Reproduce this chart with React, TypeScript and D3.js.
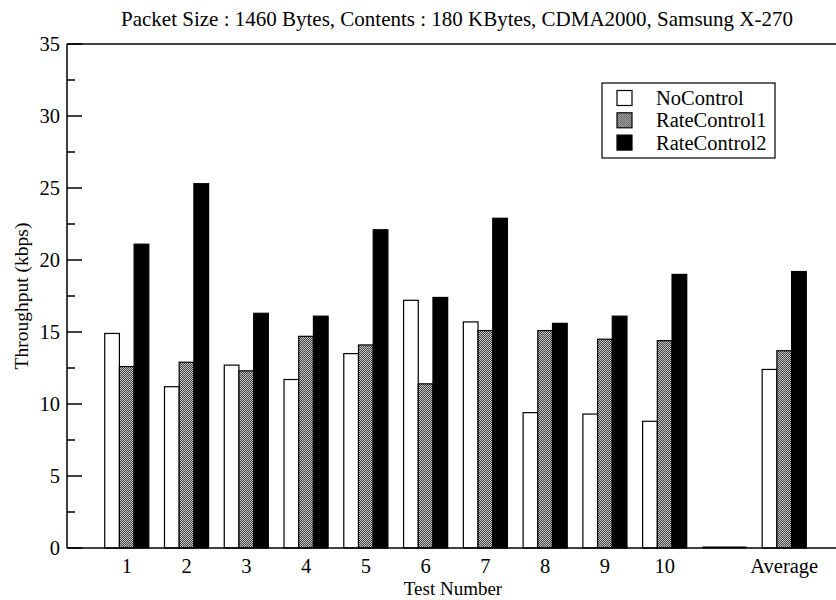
import React from 'react';
import * as d3 from 'd3';

// chart data
const categories = ['1', '2', '3', '4', '5', '6', '7', '8', '9', '10', '', 'Average'];
const noControl = [14.9, 11.2, 12.7, 11.7, 13.5, 17.2, 15.7, 9.4, 9.3, 8.8, 0, 12.4];
const rateControl1 = [12.6, 12.9, 12.3, 14.7, 14.1, 11.4, 15.1, 15.1, 14.5, 14.4, 0, 13.7];
const rateControl2 = [21.1, 25.3, 16.3, 16.1, 22.1, 17.4, 22.9, 15.6, 16.1, 19.0, 0, 19.2];
const seriesNames = ['NoControl', 'RateControl1', 'RateControl2'];
const yTicks = [0, 5, 10, 15, 20, 25, 30, 35];
const yMinorTicks = [2.5, 7.5, 12.5, 17.5, 22.5, 27.5, 32.5];

const W = 836;
const H = 600;
const margin = { top: 44, right: -8, bottom: 52, left: 67 };
const FONT = '"Liberation Serif", "Times New Roman", serif';

const App = () => {
  const innerW = W - margin.left - margin.right;
  const innerH = H - margin.top - margin.bottom;

  // numeric band positions: 1..12, domain padded by one step on each side
  const x = d3.scaleLinear().domain([0, 13]).range([0, innerW]);
  const y = d3.scaleLinear().domain([0, 35]).range([innerH, 0]);
  const step = x(1) - x(0);
  const barW = step * 0.246;

  const series = [noControl, rateControl1, rateControl2];
  const fills = ['#ffffff', 'url(#checker)', '#000000'];

  return (
    <svg width={W} height={H} style={{ position: 'absolute', left: 0, top: 0, background: '#fff' }}>
      <defs>
        <pattern id="checker" width="2" height="2" patternUnits="userSpaceOnUse">
          <rect width="2" height="2" fill="#c8c8c8" />
          <rect width="1" height="1" fill="#404040" />
          <rect x="1" y="1" width="1" height="1" fill="#404040" />
        </pattern>
      </defs>

      {/* title */}
      <text x={457} y={26} textAnchor="middle" fontFamily={FONT} fontSize={21} fill="#000">
        Packet Size : 1460 Bytes, Contents : 180 KBytes, CDMA2000, Samsung X-270
      </text>

      <g transform={`translate(${margin.left},${margin.top})`}>
        {/* bars */}
        {categories.map((c, i) => {
          const cx = x(i + 1);
          return (
            <g key={`g${i}`}>
              {series.map((s, j) => {
                const v = s[i];
                const x0 = cx - 1.5 * barW + j * barW;
                return (
                  <rect
                    key={`b${i}-${j}`}
                    x={x0}
                    y={y(v)}
                    width={barW}
                    height={Math.max(0, innerH - y(v))}
                    fill={fills[j]}
                    stroke="#000"
                    strokeWidth={1.2}
                  />
                );
              })}
            </g>
          );
        })}

        {/* zero-height group marks on the baseline */}
        {categories.map((c, i) =>
          noControl[i] === 0 ? (
            <line
              key={`z${i}`}
              x1={x(i + 1) - 1.5 * barW}
              x2={x(i + 1) + 1.5 * barW}
              y1={innerH - 0.5}
              y2={innerH - 0.5}
              stroke="#000"
              strokeWidth={2}
            />
          ) : null
        )}

        {/* frame */}
        <line x1={0} x2={innerW} y1={0} y2={0} stroke="#000" strokeWidth={1.5} />
        <line x1={0} x2={innerW} y1={innerH} y2={innerH} stroke="#000" strokeWidth={1.5} />
        <line x1={0} x2={0} y1={0} y2={innerH} stroke="#000" strokeWidth={1.5} />

        {/* y ticks */}
        {yTicks.map((t) => (
          <g key={`yt${t}`}>
            <line x1={0} x2={15} y1={y(t)} y2={y(t)} stroke="#000" strokeWidth={1.5} />
            <text
              x={-7}
              y={y(t)}
              dy="0.35em"
              textAnchor="end"
              fontFamily={FONT}
              fontSize={20.5}
              fill="#000"
            >
              {t}
            </text>
          </g>
        ))}
        {yMinorTicks.map((t) => (
          <line key={`ym${t}`} x1={0} x2={8} y1={y(t)} y2={y(t)} stroke="#000" strokeWidth={1.5} />
        ))}

        {/* x tick labels */}
        {categories.map((c, i) => (
          <text
            key={`xl${i}`}
            x={x(i + 1)}
            y={innerH + 25}
            textAnchor="middle"
            fontFamily={FONT}
            fontSize={20.5}
            fill="#000"
          >
            {c}
          </text>
        ))}

        {/* axis titles */}
        <text
          x={386}
          y={innerH + 47}
          textAnchor="middle"
          fontFamily={FONT}
          fontSize={19}
          fill="#000"
        >
          Test Number
        </text>
        <text
          transform={`translate(${-39},${innerH / 2}) rotate(-90)`}
          textAnchor="middle"
          fontFamily={FONT}
          fontSize={19.5}
          fill="#000"
        >
          Throughput (kbps)
        </text>
      </g>

      {/* legend */}
      <g transform="translate(602,83)">
        <rect x={0} y={0} width={173} height={75} fill="#fff" stroke="#000" strokeWidth={1.2} />
        {seriesNames.map((n, j) => (
          <g key={n} transform={`translate(0,${15 + j * 22.3})`}>
            <rect x={15} y={-7.5} width={15} height={15} fill={fills[j]} stroke="#000" strokeWidth={1.2} />
            <text x={54} y={0} dy="0.35em" fontFamily={FONT} fontSize={20.5} fill="#000">
              {n}
            </text>
          </g>
        ))}
      </g>
    </svg>
  );
};

export default App;
